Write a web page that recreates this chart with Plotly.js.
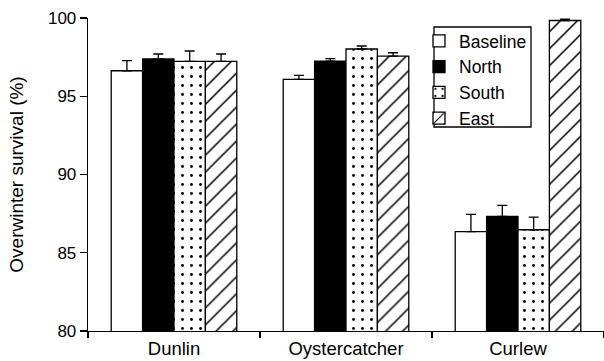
<!DOCTYPE html>
<html>
<head>
<meta charset="utf-8">
<script src="https://cdn.plot.ly/plotly-3.0.1.min.js"></script>
<style>html,body{margin:0;padding:0;background:#fff;}#chart{width:604px;height:361px;}</style>
</head>
<body>
<div id="chart"></div>
<script>
const categories = ["Dunlin", "Oystercatcher", "Curlew"];
const seriesNames = ["Baseline", "North", "South", "East"];
const baseline = [96.63, 96.08, 86.35];
const baselineErr = [0.64, 0.26, 1.10];
const north = [97.38, 97.25, 87.33];
const northErr = [0.32, 0.15, 0.70];
const south = [97.23, 98.02, 86.47];
const southErr = [0.66, 0.19, 0.80];
const east = [97.23, 97.57, 99.84];
const eastErr = [0.47, 0.21, 0.08];
const yTicks = [80, 85, 90, 95, 100];

const FONT = "Liberation Sans, Arial, sans-serif";
const values = [baseline, north, south, east];
const errs = [baselineErr, northErr, southErr, eastErr];
const styles = [
  {color: "white", pattern: {shape: ""}},
  {color: "black", pattern: {shape: ""}},
  {color: "white", pattern: {shape: ".", size: 9, solidity: 0.08, fgcolor: "black", bgcolor: "white", fillmode: "replace"}},
  {color: "white", pattern: {shape: "/", size: 12, solidity: 0.13, fgcolor: "black", bgcolor: "white", fillmode: "replace"}}
];

const traces = seriesNames.map((name, i) => ({
  type: "bar",
  name: name,
  x: categories,
  y: values[i],
  base: 0,
  marker: {color: styles[i].color, pattern: styles[i].pattern, line: {color: "black", width: 1.3}},
  error_y: {type: "data", array: errs[i], arrayminus: errs[i].map(() => 0), symmetric: false,
            color: "black", thickness: 1.3, width: 5}
}));

const layout = {
  width: 604, height: 361,
  margin: {l: 88, r: 0, t: 18, b: 30},
  paper_bgcolor: "white", plot_bgcolor: "white",
  barmode: "group", bargap: 0.27, bargroupgap: 0,
  font: {family: FONT, color: "black", size: 17},
  showlegend: true,
  legend: {x: (419 - 88) / 516, y: (331 - 23) / 313, xanchor: "left", yanchor: "top",
           borderwidth: 0, bgcolor: "rgba(0,0,0,0)",
           font: {family: FONT, size: 17.5, color: "black"}, tracegroupgap: 0,
           itemwidth: 30},
  shapes: [{type: "rect", xref: "paper", yref: "paper",
            x0: (434 - 88) / 516, x1: (531 - 88) / 516,
            y0: (331 - 127) / 313, y1: (331 - 27) / 313,
            line: {color: "black", width: 1.3}, fillcolor: "rgba(0,0,0,0)", layer: "above"}],
  xaxis: {
    showline: true, linecolor: "black", linewidth: 1.3,
    ticks: "outside", tickson: "boundaries", ticklen: 6, tickcolor: "black", tickwidth: 1.3,
    tickfont: {family: FONT, size: 18.5, color: "black"},
    showgrid: false, zeroline: false, fixedrange: true
  },
  yaxis: {
    range: [80, 100], tickvals: yTicks, ticktext: yTicks.map(String),
    showline: true, linecolor: "black", linewidth: 1.3,
    ticks: "outside", ticklen: 7, tickcolor: "black", tickwidth: 1.3,
    tickfont: {family: FONT, size: 17, color: "black"},
    showgrid: false, zeroline: false,
    title: {text: "Overwinter survival (%)", font: {family: FONT, size: 19, color: "black"}, standoff: 19}
  }
};

Plotly.newPlot("chart", traces, layout, {staticPlot: true, displayModeBar: false});
</script>
</body>
</html>
